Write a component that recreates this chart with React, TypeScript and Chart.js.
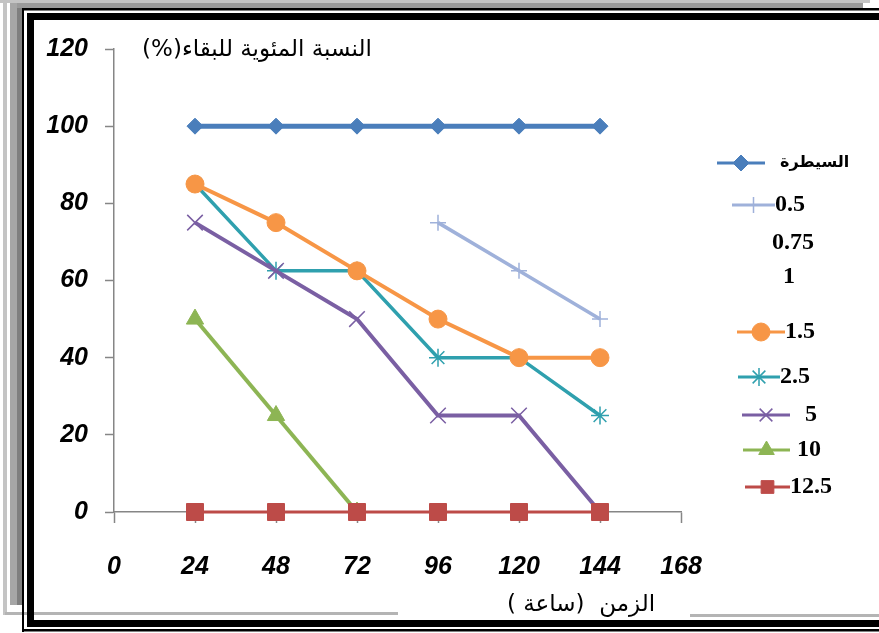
import React, { useEffect, useRef } from 'react';
import { Chart, registerables } from 'chart.js';
import { drawPoint } from 'chart.js/helpers';

Chart.register(...registerables);

// ---- data ----
const hours = [24, 48, 72, 96, 120, 144];
const xTicks = [0, 24, 48, 72, 96, 120, 144, 168];
const yTicks = [0, 20, 40, 60, 80, 100, 120];
const seriesNames = ['السيطرة', '0.5', '0.75', '1', '1.5', '2.5', '5', '10', '12.5'];
const control = [100, 100, 100, 100, 100, 100];
const conc05 = [null, null, null, 75, 62.5, 50];
const conc075 = [null, null, null, null, null, null];
const conc1 = [null, null, null, null, null, null];
const conc15 = [85, 75, 62.5, 50, 40, 40];
const conc25 = [85, 62.5, 62.5, 40, 40, 25];
const conc5 = [75, 62.5, 50, 25, 25, 0];
const conc10 = [50, 25, 0, null, null, null];
const conc125 = [0, 0, 0, 0, 0, 0];
const seriesValues: (number | null)[][] = [control, conc05, conc075, conc1, conc15, conc25, conc5, conc10, conc125];
const yTitle = 'النسبة المئوية للبقاء(%)';
const xTitle = 'الزمن  (ساعة )';

// ---- styles ----
const colors = ['#4A7EBB', '#9FB1DA', '#999999', '#999999', '#F79646', '#2FA0AE', '#7A5FA3', '#8DB554', '#BD4B48'];
const pointStyles = ['rectRot', 'cross', 'circle', 'circle', 'circle', 'star', 'crossRot', 'triangle', 'rect'];
const pointRadii = [8, 8, 0, 0, 9, 9, 11, 10, 12];
const pointBorders = [1, 1.5, 1, 1, 1, 1.5, 1.5, 1, 1];
const lineWidths = [5, 3.5, 3, 3, 4, 3.5, 4, 4, 3];
// lower value = drawn on top
const drawOrder = [9, 8, 7, 6, 3, 5, 4, 2, 1];

// legend layout: [y, lineStart, lineEnd, textX] ; lineStart < 0 means no symbol
const legendLayout = [
  [163, 717, 765, 780],
  [205, 732, 775, 775],
  [243, -1, -1, 772],
  [277, -1, -1, 783],
  [332, 737, 785, 785],
  [377, 738, 780, 780],
  [415, 742, 790, 805],
  [450, 743, 790, 797],
  [487, 745, 790, 790],
];

const framePlugin = {
  id: 'frame',
  beforeDraw(chart: any) {
    const ctx = chart.ctx;
    const r = (c: string, x: number, y: number, w: number, h: number) => {
      ctx.fillStyle = c;
      ctx.fillRect(x, y, w, h);
    };
    ctx.save();
    r('#c4c4c4', 0, 0, 870, 3);
    r('#9a9a9a', 10, 3, 853, 5);
    r('#c4c4c4', 3, 0, 4, 615);
    r('#a6a6a6', 10, 3, 7, 602);
    r('#7f7f7f', 17, 8, 5, 597);
    r('#b4b4b4', 5, 612, 393, 3);
    r('#b4b4b4', 690, 614, 189, 3);
    r('#000000', 22, 8, 857, 2.5);
    r('#000000', 22, 8, 2, 624);
    r('#000000', 27, 13, 852, 7);
    r('#000000', 27, 13, 7, 614);
    r('#000000', 27, 620, 852, 7);
    r('#000000', 22, 629, 857, 2.5);
    ctx.restore();
  },
};

const textPlugin = {
  id: 'texts',
  afterDraw(chart: any) {
    const ctx = chart.ctx;
    ctx.save();
    ctx.direction = 'rtl';
    ctx.fillStyle = '#000';
    ctx.textAlign = 'center';
    ctx.textBaseline = 'middle';
    ctx.font = '23px "DejaVu Sans"';
    ctx.fillText(yTitle, 257, 50);
    ctx.fillText(xTitle, 581, 605);
    ctx.restore();

    // legend
    ctx.save();
    chart.data.datasets.forEach((ds: any, i: number) => {
      const [y, x0, x1, tx] = legendLayout[i];
      if (x0 >= 0) {
        ctx.strokeStyle = ds.borderColor;
        ctx.lineWidth = 3;
        ctx.beginPath();
        ctx.moveTo(x0, y);
        ctx.lineTo(x1, y);
        ctx.stroke();
        ctx.fillStyle = ds.pointBackgroundColor;
        ctx.strokeStyle = ds.pointBorderColor;
        ctx.lineWidth = ds.pointBorderWidth;
        drawPoint(ctx, {
          pointStyle: ds.pointStyle,
          radius: Math.min(ds.pointRadius, 9),
          rotation: 0,
          borderWidth: ds.pointBorderWidth,
        } as any, (x0 + x1) / 2, y);
      }
      ctx.fillStyle = '#000';
      ctx.textBaseline = 'middle';
      ctx.textAlign = 'left';
      if (/[\u0600-\u06FF]/.test(ds.label)) {
        ctx.direction = 'rtl';
        ctx.textAlign = 'left';
        ctx.font = 'bold 16px "DejaVu Sans"';
      } else {
        ctx.direction = 'ltr';
        ctx.font = 'bold 24px "Liberation Serif"';
      }
      ctx.fillText(ds.label, tx, y);
    });
    ctx.restore();
  },
};

export default function App() {
  const ref = useRef<HTMLCanvasElement>(null);
  useEffect(() => {
    if (!ref.current) return;
    const datasets = seriesNames.map((name, i) => ({
      label: name,
      data: hours
        .map((h, j) => ({ x: h, y: seriesValues[i][j] }))
        .filter((p) => p.y !== null),
      borderColor: colors[i],
      backgroundColor: colors[i],
      pointBackgroundColor: colors[i],
      pointBorderColor: colors[i],
      pointStyle: pointStyles[i],
      pointRadius: pointRadii[i],
      pointBorderWidth: pointBorders[i],
      borderWidth: lineWidths[i],
      tension: 0,
      clip: false as const,
      order: drawOrder[i],
    }));
    const tickFont = { family: '"Liberation Sans"', size: 25, weight: 'bold' as const, style: 'italic' as const };
    const chart = new Chart(ref.current, {
      type: 'line',
      data: { datasets },
      options: {
        animation: false,
        responsive: true,
        maintainAspectRatio: false,
        events: [],
        layout: { padding: { left: 0, top: 49, right: 198, bottom: 0 } },
        plugins: { legend: { display: false }, tooltip: { enabled: false }, title: { display: false } },
        scales: {
          x: {
            type: 'linear',
            min: 0,
            max: 168,
            afterBuildTicks: (s: any) => {
              s.ticks = xTicks.map((v) => ({ value: v }));
            },
            afterFit: (s: any) => {
              s.height = 121;
            },
            ticks: { font: tickFont, color: '#000', padding: 29, maxRotation: 0, autoSkip: false },
            grid: { drawOnChartArea: false, drawTicks: true, tickLength: 11, color: '#868686', tickColor: '#868686', tickWidth: 1.5 },
            border: { color: '#868686', width: 1.5 },
          },
          y: {
            type: 'linear',
            min: 0,
            max: 120,
            afterBuildTicks: (s: any) => {
              s.ticks = yTicks.map((v) => ({ value: v }));
            },
            afterFit: (s: any) => {
              s.width = 114;
            },
            ticks: { font: tickFont, color: '#000', padding: 17 },
            grid: { drawOnChartArea: false, drawTicks: true, tickLength: 9, color: '#868686', tickColor: '#868686', tickWidth: 1.5 },
            border: { color: '#868686', width: 1.5 },
          },
        },
      },
      plugins: [framePlugin, textPlugin],
    });
    return () => chart.destroy();
  }, []);
  return (
    <div style={{ position: 'absolute', left: 0, top: 0, width: 879, height: 633, background: '#fff' }}>
      <canvas ref={ref} />
    </div>
  );
}
